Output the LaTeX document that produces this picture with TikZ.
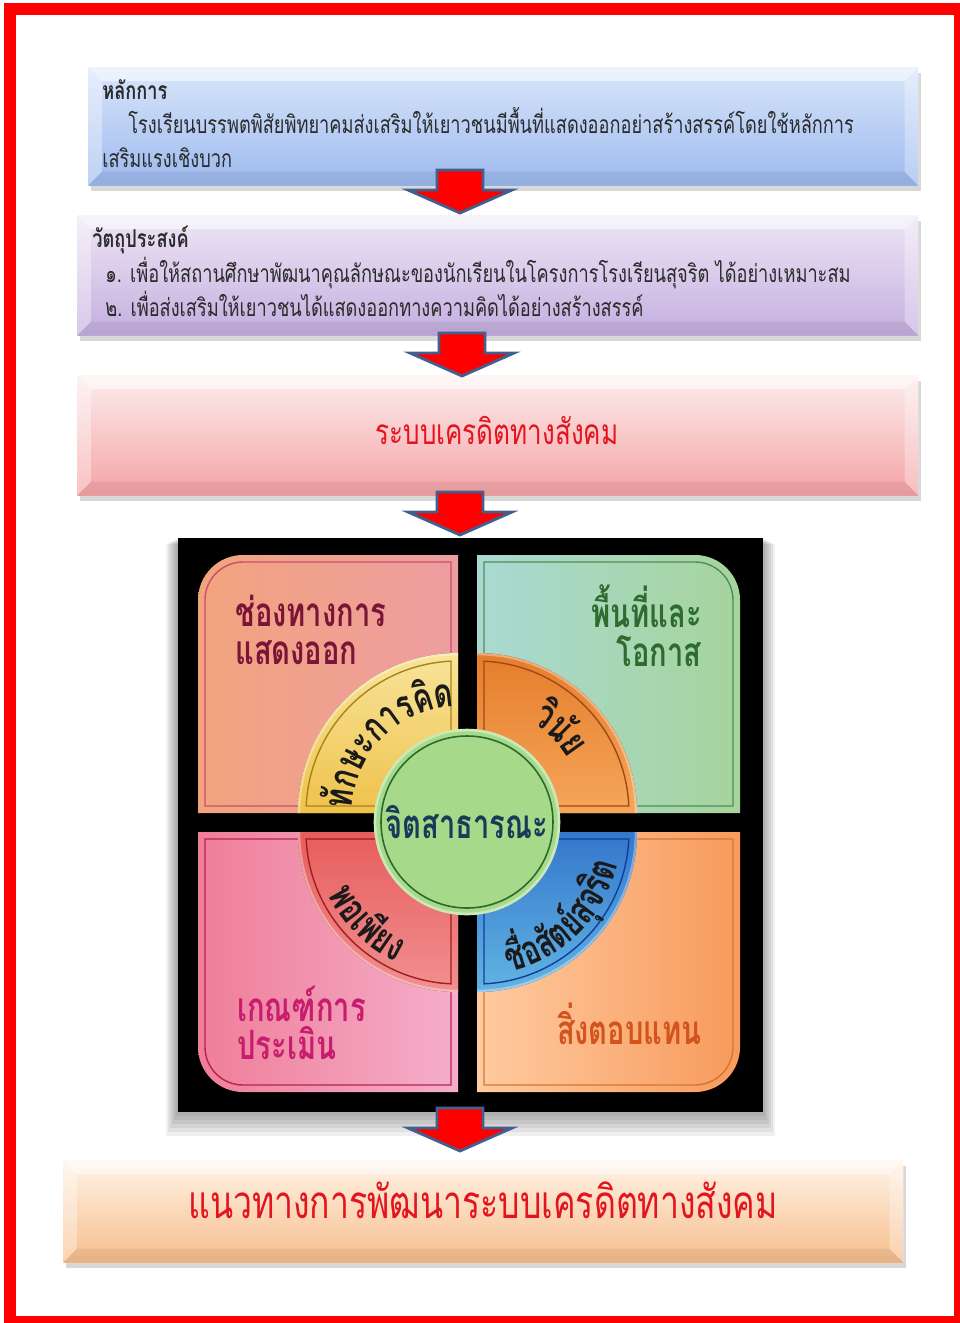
\documentclass[tikz,border=0pt]{standalone}
\usepackage{fontspec}
\setmainfont[Script=Thai]{Loma}
\newfontfamily\boxface[Script=Thai,FakeStretch=0.74]{Loma}
\newfontfamily\ringface[Script=Thai,FakeStretch=0.72]{Loma}
\usepackage{xcolor}
\usetikzlibrary{calc,shadows,decorations.text}

\definecolor{frame}{HTML}{FF0000}
\definecolor{bluetop}{HTML}{D9E6FA}
\definecolor{bluebot}{HTML}{9CB9EE}
\definecolor{purpletop}{HTML}{EEE6F6}
\definecolor{purplebot}{HTML}{C4AEDF}
\definecolor{pinktop}{HTML}{FDEDED}
\definecolor{pinkbot}{HTML}{F4A3A5}
\definecolor{peachtop}{HTML}{FFF3E6}
\definecolor{peachbot}{HTML}{F7BE8C}
\definecolor{arrowred}{HTML}{FF0000}
\definecolor{arrowedge}{HTML}{41608F}
\definecolor{titlered}{HTML}{E3141E}
\definecolor{boxink}{HTML}{2B2B2B}
\definecolor{qtlA}{HTML}{F2A47E}
\definecolor{qtlB}{HTML}{EE9DA0}
\definecolor{qtlline}{HTML}{C8506A}
\definecolor{qtlink}{HTML}{7A1538}
\definecolor{qtrA}{HTML}{A9D9D3}
\definecolor{qtrB}{HTML}{A6D49C}
\definecolor{qtrline}{HTML}{4E8E56}
\definecolor{qtrink}{HTML}{2E6B2E}
\definecolor{qblA}{HTML}{EF7E98}
\definecolor{qblB}{HTML}{F5AECB}
\definecolor{qblline}{HTML}{B52350}
\definecolor{qblink}{HTML}{C81C6E}
\definecolor{qbrA}{HTML}{FFCBA0}
\definecolor{qbrB}{HTML}{F79A5C}
\definecolor{qbrline}{HTML}{D6752F}
\definecolor{qbrink}{HTML}{D2541C}
\definecolor{segyA}{HTML}{F8E49A}
\definecolor{segyB}{HTML}{EFC24A}
\definecolor{segyline}{HTML}{A9831A}
\definecolor{segoA}{HTML}{F6A65A}
\definecolor{segoB}{HTML}{E57D2C}
\definecolor{segoline}{HTML}{9E4A12}
\definecolor{segrA}{HTML}{E75D5D}
\definecolor{segrB}{HTML}{F29090}
\definecolor{segrline}{HTML}{9E1E1E}
\definecolor{segbA}{HTML}{3477CC}
\definecolor{segbB}{HTML}{62B4E3}
\definecolor{segbline}{HTML}{0E3E9E}
\definecolor{jitfill}{HTML}{A6DA8A}
\definecolor{jitline}{HTML}{2A6A2A}
\definecolor{jitink}{HTML}{1B3A57}
\definecolor{ringink}{HTML}{1A1A1A}

\newcommand{\boxtxt}{\boxface\fontsize{14}{19}\selectfont}
\newcommand{\quadtxt}{\ringface\bfseries\fontsize{23}{22}\selectfont}
\newcommand{\ringtxt}{\ringface\bfseries\fontsize{23}{23}\selectfont\color{ringink}}

% bevel edges of a box node
\newcommand{\bevel}[1]{%
  \fill[white,opacity=.55] (#1.north west) -- (#1.north east) -- ([shift={(-.28cm,-.28cm)}]#1.north east) -- ([shift={(.28cm,-.28cm)}]#1.north west) -- cycle;
  \fill[white,opacity=.35] (#1.north west) -- ([shift={(.28cm,-.28cm)}]#1.north west) -- ([shift={(.28cm,.28cm)}]#1.south west) -- (#1.south west) -- cycle;
  \fill[white,opacity=.3] (#1.north east) -- ([shift={(-.28cm,-.28cm)}]#1.north east) -- ([shift={(-.28cm,.28cm)}]#1.south east) -- (#1.south east) -- cycle;
  \fill[black,opacity=.06] (#1.south west) -- ([shift={(.28cm,.28cm)}]#1.south west) -- ([shift={(-.28cm,.28cm)}]#1.south east) -- (#1.south east) -- cycle;}

\tikzset{
  frameline/.style={draw=frame, line width=6.8pt},
  bevelbox/.style={inner sep=0pt, anchor=north west,
    drop shadow={opacity=.3, shadow xshift=.5mm, shadow yshift=-1.2mm}},
  boxtext/.style={anchor=base west, inner sep=0pt, text=boxink, font=\boxtxt},
  arrowstyle/.style={fill=arrowred, draw=arrowedge, line width=1.6pt, line join=miter},
  dnarrow/.pic={\draw[arrowstyle] (-23,0) -- (23,0) -- (23,20) -- (52,20) -- (0,43) -- (-52,20) -- (-23,20) -- cycle;},
  quadtext/.style={inner sep=0pt, font=\quadtxt},
  qline/.style={line width=.8pt},
  ringtext/.style={decorate, decoration={text along path, text align=center, text={#1}}},
}

\begin{document}
\begin{tikzpicture}[x=0.02cm,y=-0.02cm]
  \useasboundingbox (0,0) rectangle (960,1323);
  \fill[white] (0,0) rectangle (960,1323);
  \draw[frameline] (10,9) rectangle (960,1322);

  % boxes
  \node[bevelbox, top color=bluetop, bottom color=bluebot,
    minimum width=16.6cm, minimum height=2.36cm] (hlak) at (88,67) {};
  \bevel{hlak}
  \node[bevelbox, top color=purpletop, bottom color=purplebot,
    minimum width=16.82cm, minimum height=2.4cm] (wattu) at (77,215) {};
  \bevel{wattu}
  \node[bevelbox, top color=pinktop, bottom color=pinkbot,
    minimum width=16.82cm, minimum height=2.4cm] (rabob) at (77,375) {};
  \bevel{rabob}
  \node[bevelbox, top color=peachtop, bottom color=peachbot,
    minimum width=16.8cm, minimum height=2.04cm] (naew) at (63,1160) {};
  \bevel{naew}

  \node[boxtext] (hlak1) at (102,99) {\bfseries หลักการ};
  \node[boxtext] (hlak2) at (128,133) {โรงเรียนบรรพตพิสัยพิทยาคมส่งเสริมให้เยาวชนมีพื้นที่แสดงออกอย่าสร้างสรรค์โดยใช้หลักการ};
  \node[boxtext] (hlak3) at (102,167) {เสริมแรงเชิงบวก};
  \node[boxtext] (wattu1) at (92,247) {\bfseries วัตถุประสงค์};
  \node[boxtext] (wattu2) at (105,282) {๑. เพื่อให้สถานศึกษาพัฒนาคุณลักษณะของนักเรียนในโครงการโรงเรียนสุจริต ได้อย่างเหมาะสม};
  \node[boxtext] (wattu3) at (105,316) {๒. เพื่อส่งเสริมให้เยาวชนได้แสดงออกทางความคิดได้อย่างสร้างสรรค์};
  \node[inner sep=0pt, text=titlered, font=\boxface\fontsize{20}{20}\selectfont] (rabobt) at (497,430) {ระบบเครดิตทางสังคม};
  \node[inner sep=0pt, text=titlered, font=\boxface\fontsize{26}{26}\selectfont] (naewt) at (483,1200) {แนวทางการพัฒนาระบบเครดิตทางสังคม};

  % flow arrows
  \coordinate (ar1) at (460,170);
  \coordinate (ar2) at (462,333);
  \coordinate (ar3) at (460,492);
  \coordinate (ar4) at (460,1108);

  % board
  \foreach \g in {1,...,6}
    \fill[black,opacity=.06] (178-\g*2,538+\g) rectangle (763+\g*2,1112+\g*4);
  \node[fill=black, inner sep=0pt, anchor=north west,
    minimum width=11.7cm, minimum height=11.48cm] (board) at (178,538) {};

  % quadrants
  \fill[left color=qtlA, right color=qtlB] (198,813) -- (198,600) arc (180:270:45) -- (458,555) -- (458,813) -- cycle;
  \draw[qline, qtlline] (205,806) -- (205,600) arc (180:270:38) -- (451,562) -- (451,806) -- cycle;
  \fill[left color=qtrA, right color=qtrB] (477,555) -- (695,555) arc (270:360:45) -- (740,813) -- (477,813) -- cycle;
  \draw[qline, qtrline] (484,562) -- (695,562) arc (270:360:38) -- (733,806) -- (484,806) -- cycle;
  \fill[left color=qblA, right color=qblB] (198,832) -- (198,1047) arc (180:90:45) -- (458,1092) -- (458,832) -- cycle;
  \draw[qline, qblline] (205,839) -- (205,1047) arc (180:90:38) -- (451,1085) -- (451,839) -- cycle;
  \fill[left color=qbrA, right color=qbrB] (477,832) -- (740,832) -- (740,1047) arc (0:90:45) -- (477,1092) -- cycle;
  \draw[qline, qbrline] (484,839) -- (733,839) -- (733,1047) arc (0:90:38) -- (484,1085) -- cycle;

  \node[quadtext, text=qtlink, anchor=west, align=left] (chong) at (235,630) {ช่องทางการ\\แสดงออก};
  \node[quadtext, text=qtrink, anchor=east, align=right] (puen) at (702,626) {พื้นที่และ\\โอกาส};
  \node[quadtext, text=qblink, anchor=west, align=left] (kane) at (237,1023) {เกณฑ์การ\\ประเมิน};
  \node[quadtext, text=qbrink, anchor=east] (sing) at (702,1024) {สิ่งตอบแทน};

  % ring segments
  \coordinate (cTL) at (458,813);
  \coordinate (cTR) at (477,813);
  \coordinate (cBL) at (458,832);
  \coordinate (cBR) at (477,832);
  \foreach \c/\a/\ca/\cb/\cl in {cTL/180/segyA/segyB/segyline, cTR/270/segoB/segoA/segoline,
                              cBL/90/segrA/segrB/segrline, cBR/0/segbA/segbB/segbline} {
    \fill[top color=\ca, bottom color=\cb] (\c) -- ($(\c)+(\a:160)$) arc (\a:\a+90:160) -- cycle;
    \draw[white, opacity=.35, line width=1.5pt] ($(\c)+(\a:159)$) arc (\a:\a+90:159);
    \draw[qline, \cl] ($(\c)+(\a+45:9.9)$) -- ($(\c)+(\a+2.64:152)$) arc (\a+2.64:\a+87.36:152) -- cycle;
  }
  \path[ringtext={|\ringtxt|{ทั}กษะการ{คิ}ด}] ($(cTL)+(175:106)$) arc (175:275:106);
  \path[ringtext={|\ringtxt|{วิ}{นั}ย}] ($(cTR)+(265:106)$) arc (265:365:106);
  \path[ringtext={|\ringtxt|พอเ{พี}ยง}] ($(cBL)+(185:144)$) arc (185:85:144);
  \path[ringtext={|\ringtxt|{ชื่}อ{สั}ต{ย์}{สุ}จ{ริ}ต}] ($(cBR)+(95:144)$) arc (95:-5:144);

  % centre
  \node[circle, fill=jitfill, draw=jitfill!60!white, line width=1.5pt, minimum size=3.68cm,
    inner sep=0pt, text=jitink, font=\ringface\bfseries\fontsize{23}{23}\selectfont] (jit) at (467,822) {จิตสาธารณะ};
  \draw[jitline, line width=.9pt] (jit.center) circle (86);

  \pic at (ar1) {dnarrow};
  \pic at (ar2) {dnarrow};
  \pic at (ar3) {dnarrow};
  \pic at (ar4) {dnarrow};
\end{tikzpicture}
\end{document}
